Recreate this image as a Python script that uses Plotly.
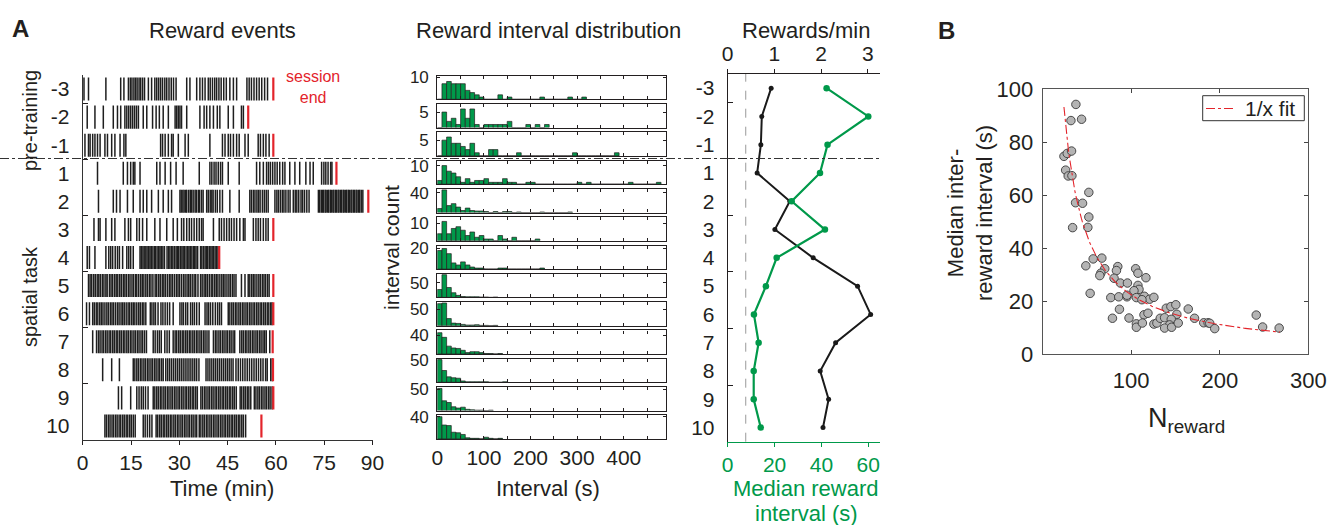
import plotly.graph_objects as go
import numpy as np

W, H = 1343, 525
FONT = "Liberation Sans, Arial, Helvetica, sans-serif"
INK = "#231f20"
GREEN = "#00994a"
RED = "#e3242b"

# ---------------- data ----------------
session_labels = ["-3", "-2", "-1", "1", "2", "3", "4", "5", "6", "7", "8", "9", "10"]

# reward event times (min)
ev_m3 = [0.4, 1.8, 7.2, 11.8, 12.8, 14.2, 14.8, 15.3, 15.9, 16.4, 16.9, 17.5, 18.0, 18.6, 19.2, 20.4, 21.4, 22.4,
         23.0, 23.6, 24.2, 24.8, 25.5, 26.1, 26.8, 27.5, 28.2, 29.0, 32.3, 33.3, 35.4, 36.4, 37.2, 38.0, 39.0, 39.6,
         40.3, 41.0, 41.6, 42.3, 43.0, 43.8, 44.6, 45.7, 46.8, 47.8, 51.0, 51.7, 52.4, 53.2, 54.0, 54.8, 55.6, 56.5, 57.4]
ev_m2 = [1.4, 3.8, 6.4, 9.5, 10.8, 11.8, 13.1, 13.7, 14.3, 14.9, 15.5, 16.1, 16.7, 17.3, 18.8, 19.9, 21.7, 22.8,
         23.8, 25.0, 26.6, 28.7, 29.2, 29.7, 30.2, 30.7, 32.3, 36.4, 37.7, 38.5, 39.5, 40.6, 41.8, 42.6, 45.2, 46.8,
         49.3, 49.9]
ev_m1 = [0.7, 1.8, 2.3, 3.1, 3.8, 4.6, 5.4, 6.9, 7.7, 9.0, 10.0, 11.6, 12.8, 13.4, 24.2, 24.8, 25.6, 26.6, 27.6,
         28.1, 29.7, 31.8, 32.8, 39.5, 43.4, 44.2, 45.2, 45.9, 46.8, 47.8, 48.6, 50.4, 51.4, 54.5, 55.2, 56.1, 56.9, 57.9]
ev_1 = [4.6, 12.6, 13.9, 14.9, 15.7, 16.2, 17.8, 23.0, 24.0, 25.6, 27.3, 29.0, 31.2, 36.2, 39.5, 40.1, 40.8, 41.4,
        42.1, 42.8, 43.4, 45.2, 48.6, 54.0, 55.0, 56.1, 57.1, 57.7, 58.3, 59.0, 59.7, 60.4, 61.2, 62.1, 62.8, 64.3,
        65.9, 67.4, 69.3, 70.6, 71.6, 74.2, 74.9, 75.5, 76.2, 77.0, 77.4]
ev_2 = [4.9, 9.5, 10.5, 11.6, 13.9, 15.7, 17.8, 18.8, 19.9, 21.4, 23.5, 25.0, 26.6, 27.6, 30.2, 30.6, 31.1, 31.5,
        32.0, 32.3, 32.9, 33.4, 33.8, 34.3, 34.9, 35.3, 35.9, 36.3, 36.9, 37.4, 38.5, 39.0, 39.6, 40.1, 40.5, 41.2,
        41.8, 42.6, 43.4, 45.7, 48.6, 51.9, 52.4, 53.0, 53.5, 54.1, 54.6, 55.1, 55.8, 56.4, 57.0, 57.6, 59.7, 60.3,
        60.8, 61.4, 62.0, 62.5, 63.1, 63.8, 64.4, 65.4, 66.0, 66.5, 67.1, 67.8, 68.3, 68.9, 69.6, 70.3, 73.2, 73.6,
        74.1, 74.5, 74.8, 75.3, 75.6, 76.1, 76.4, 76.9, 77.2, 77.7, 78.0, 78.5, 78.8, 79.3, 79.6, 80.1, 80.4, 80.9,
        81.2, 81.7, 82.0, 82.5, 82.8, 83.3, 83.6, 84.1, 84.4, 84.9, 85.2, 85.7, 86.0, 86.5, 87.0]
ev_3 = [3.5, 4.9, 5.4, 7.2, 9.0, 10.0, 13.1, 14.2, 14.9, 16.8, 17.6, 18.6, 19.9, 22.4, 24.0, 26.1, 28.1, 29.4,
        30.7, 31.4, 32.3, 33.1, 33.8, 34.6, 35.4, 36.2, 36.9, 37.4, 40.6, 42.4, 43.1, 43.9, 44.7, 45.5, 46.2, 47.0,
        47.8, 48.8, 49.9, 50.4, 53.0, 53.8, 54.5, 55.2, 56.1, 56.9, 57.6]
ev_4 = [1.4, 2.1, 3.8, 7.2, 8.1, 8.7, 9.3, 10.1, 10.8, 11.4, 12.4, 13.7, 14.3, 14.9, 15.7, 17.8, 18.2, 18.7, 19.1,
        19.6, 20.0, 20.5, 20.9, 21.3, 21.8, 22.3, 22.6, 23.1, 23.6, 24.0, 24.4, 24.9, 25.4, 26.2, 26.7, 27.1, 27.6,
        28.0, 28.5, 29.0, 29.4, 29.8, 30.3, 30.8, 31.2, 31.6, 32.1, 32.6, 33.0, 33.4, 33.9, 34.4, 34.8, 35.2, 35.7,
        36.6, 37.0, 37.5, 38.0, 38.4, 38.8, 39.3, 39.8, 40.2, 40.6, 41.1, 41.5, 42.0]
ev_5 = [1.8, 2.3, 2.8, 3.4, 3.9, 4.5, 5.0, 5.5, 6.1, 6.6, 7.2, 7.6, 8.3, 8.8, 9.3, 9.9, 10.4, 10.9, 11.5, 12.0,
        12.6, 13.1, 13.6, 14.2, 14.7, 15.3, 15.8, 16.4, 16.8, 17.4, 18.0, 18.5, 19.0, 19.6, 20.1, 20.7, 21.2, 21.8,
        22.5, 23.0, 23.6, 24.1, 24.7, 25.2, 25.7, 26.3, 26.9, 27.4, 27.9, 28.5, 29.1, 29.6, 30.1, 30.7, 31.3, 31.8,
        32.4, 32.9, 33.4, 34.0, 34.6, 35.1, 35.8, 36.6, 37.1, 37.7, 38.2, 38.7, 39.3, 39.9, 40.4, 41.0, 41.5, 42.0,
        42.6, 43.2, 43.7, 44.2, 44.8, 45.4, 45.9, 46.5, 47.0, 47.6, 49.3, 50.4, 51.4, 51.9, 52.5, 53.0, 53.5, 54.1,
        54.7, 55.2, 55.8, 56.3, 56.8, 57.4, 57.9]
ev_6 = [1.2, 2.1, 3.1, 3.6, 4.2, 4.7, 5.3, 5.8, 6.3, 6.9, 7.5, 8.0, 8.6, 9.1, 9.6, 10.2, 10.8, 11.3, 11.9, 12.4,
        12.9, 13.5, 14.1, 14.6, 15.2, 15.7, 16.2, 16.8, 17.4, 17.9, 18.5, 19.0, 19.6, 21.0, 21.5, 22.1, 22.6, 23.4,
        24.3, 24.9, 25.6, 26.3, 27.0, 28.1, 30.2, 30.8, 31.3, 32.0, 32.6, 33.5, 34.1, 34.7, 35.4, 36.2, 38.0, 38.6,
        39.1, 39.7, 40.4, 41.2, 41.9, 42.5, 43.1, 45.2, 45.7, 46.3, 46.8, 47.4, 47.9, 48.5, 49.0, 49.6, 50.1, 50.7,
        51.2, 51.8, 52.3, 52.9, 53.4, 54.0, 54.5, 55.1, 55.6, 56.2, 56.7, 57.3, 57.8, 58.4, 58.8]
ev_7 = [3.1, 4.3, 4.9, 5.4, 6.0, 6.5, 7.1, 7.6, 8.2, 8.7, 9.3, 9.8, 10.4, 10.9, 11.5, 12.0, 12.6, 13.1, 13.7, 14.2,
        14.8, 15.3, 15.9, 16.4, 17.0, 17.5, 18.1, 18.6, 19.2, 19.8, 21.9, 22.5, 23.2, 23.8, 24.4, 25.5, 26.2, 26.9,
        28.1, 28.7, 29.2, 29.8, 30.3, 30.9, 31.4, 32.0, 32.5, 33.1, 33.6, 34.2, 34.7, 35.3, 35.8, 36.4, 36.9, 37.5,
        38.0, 38.6, 39.2, 40.6, 41.2, 41.7, 42.3, 42.8, 43.4, 43.9, 44.5, 45.0, 45.6, 46.1, 46.7, 47.2, 48.8, 49.4,
        49.9, 50.5, 51.0, 51.6, 52.1, 52.7, 53.2, 53.8, 54.3, 54.9, 55.4, 56.0, 56.5, 57.0, 58.1]
ev_8 = [6.2, 9.0, 11.4, 15.7, 16.2, 16.8, 17.3, 17.9, 18.4, 19.0, 19.5, 20.1, 20.6, 21.2, 21.7, 22.3, 22.8, 23.4,
        23.9, 24.5, 25.0, 25.8, 26.4, 27.0, 27.6, 28.2, 28.8, 29.4, 30.0, 30.6, 31.2, 31.8, 32.4, 33.0, 33.6, 34.2,
        34.8, 35.4, 36.1, 38.3, 38.9, 39.5, 40.1, 40.7, 41.3, 41.9, 42.5, 43.1, 43.7, 44.3, 44.9, 45.5, 46.1, 46.7,
        47.6, 48.3, 49.0, 49.7, 50.4, 51.1, 51.8, 52.5, 53.2, 53.9, 54.6, 55.3, 56.0, 56.8, 57.3, 58.4, 58.9]
ev_9 = [11.1, 12.1, 14.9, 16.8, 17.5, 18.2, 18.8, 19.5, 20.3, 21.9, 22.4, 23.0, 23.5, 24.1, 24.6, 25.2, 25.7, 26.3,
        26.8, 27.4, 27.9, 28.5, 29.0, 29.6, 30.1, 30.7, 31.2, 31.8, 32.3, 32.9, 33.4, 34.0, 34.5, 35.1, 35.6, 36.7,
        37.2, 37.8, 38.3, 38.9, 39.4, 40.0, 40.5, 41.1, 41.6, 42.2, 42.7, 43.3, 43.8, 44.4, 44.9, 45.5, 46.0, 46.6,
        47.1, 47.7, 48.9, 49.4, 50.0, 50.5, 51.1, 51.6, 52.2, 53.3, 53.8, 54.4, 54.9, 55.5, 56.0, 56.6, 57.1, 57.7,
        58.2, 58.8]
ev_10 = [6.9, 7.4, 8.0, 8.5, 9.1, 9.6, 10.2, 10.7, 11.3, 11.8, 12.4, 12.9, 13.5, 14.0, 14.6, 15.1, 15.7, 16.3,
         18.8, 19.4, 20.1, 20.8, 21.5, 22.8, 23.3, 23.9, 24.4, 25.0, 25.5, 26.1, 26.6, 27.2, 27.7, 28.3, 28.8, 29.4,
         29.9, 30.5, 31.0, 31.6, 32.1, 32.7, 33.2, 33.8, 34.3, 34.9, 35.4, 36.2, 36.7, 37.3, 37.8, 38.4, 38.9, 39.5,
         40.0, 40.6, 41.1, 41.7, 42.2, 42.8, 43.3, 43.9, 44.4, 45.0, 45.5, 46.1, 46.6, 47.2, 47.7, 48.3, 48.8, 49.4,
         49.9, 50.6]
session_end = [59.2, 51.4, 59.2, 78.8, 88.7, 59.2, 42.4, 59.2, 59.2, 59.0, 59.1, 59.2, 55.5]

# interval histograms (counts per 10 s bin, starting at 0 s)
hist_bin_s = 10
h_m3 = [0, 7, 8, 7, 7, 7, 4, 3, 2, 1, 0, 0, 0, 2, 0, 1, 0, 0, 0, 0, 0, 0, 1, 0, 0, 0, 0, 0, 1, 0, 0, 1]
h_m2 = [0, 5, 2, 3, 1, 6, 3, 6, 1, 0, 1, 1, 1, 1, 1, 2, 0, 0, 0, 1, 0, 1, 0, 1]
h_m1 = [0, 5, 6, 4, 4, 3, 2, 4, 1, 0, 0, 2, 2, 0, 0, 0, 0, 1, 0, 0, 0, 0, 0, 0, 0, 0, 0, 0, 0, 1, 0, 0, 0, 0, 0,
        0, 0, 0, 1]
h_1 = [2, 10, 7, 6, 4, 1, 3, 1, 2, 2, 3, 1, 1, 1, 3, 1, 1, 0, 0, 1, 1, 0, 0, 0, 0, 0, 0, 0, 0, 0, 1, 0, 1, 0, 0, 0,
       0, 0, 0, 0, 0, 1, 0, 0, 0, 0, 0, 1]
h_2 = [8, 46, 14, 18, 11, 4, 9, 4, 3, 3, 2, 0, 2, 0, 2, 2, 0, 1, 0, 0, 0, 0, 1, 0, 0, 0, 0, 0, 1]
h_3 = [4, 11, 4, 7, 8, 6, 3, 5, 2, 3, 1, 1, 0, 3, 1, 0, 2, 0, 0, 0, 0, 1]
h_4 = [18, 20, 15, 6, 4, 7, 4, 2, 1, 1, 0, 0, 0, 1, 1, 0, 0, 0, 0, 0, 0, 0, 1]
h_5 = [27, 78, 34, 16, 7, 3, 2, 2, 2, 1, 1, 0, 1]
h_6 = [68, 70, 22, 8, 7, 4, 2, 2, 3, 1, 1, 0, 1]
h_7 = [46, 36, 17, 13, 12, 8, 3, 5, 5, 3, 1, 1, 0, 1]
h_8 = [50, 26, 12, 10, 9, 3, 1, 1, 1, 1, 1, 0, 0, 0, 1]
h_9 = [52, 23, 19, 9, 6, 8, 3, 2, 1, 1, 0, 1]
h_10 = [40, 25, 24, 12, 11, 8, 2, 1, 1, 0, 3, 1, 0, 1]
hist_tick = [10, 5, 5, 10, 40, 10, 20, 50, 50, 40, 50, 50, 40]
hist_ymax = [10.6, 7.6, 7.5, 12.7, 48, 13.4, 22.9, 81, 72.8, 51, 52, 55.4, 42.5]
hist_major_ticks = [0, 100, 200, 300, 400]
hist_minor_ticks = [50, 150, 250, 350, 450]

# rewards/min and median interval per session
rewards_per_min = [0.93, 0.73, 0.71, 0.63, 1.33, 1.01, 1.83, 2.78, 3.06, 2.31, 1.98, 2.16, 2.04]
median_interval_s = [42.2, 60.0, 42.6, 39.4, 27.3, 41.5, 20.9, 16.3, 11.2, 13.2, 11.1, 11.1, 14.1]
ref_interval_s = 7.7

# panel B
n_reward = [37.5, 31.9, 43.9, 24.0, 27.7, 32.6, 25.9, 28.8, 33.0, 52.1, 37.1, 45.0, 52.1, 33.8, 51.0, 57.0, 66.8,
            48.7, 84.8, 70.1, 105.0, 83.3, 65.6, 64.5, 107.6, 116.6, 80.6, 87.8, 95.7, 107.6, 108.8, 103.1, 53.6,
            76.9, 85.9, 95.2, 105.8, 114.8, 120.8, 125.6, 95.2, 112.1, 86.7, 78.8, 97.5, 114.4, 118.9, 105.8, 105.8,
            112.6, 125.6, 129.0, 132.8, 137.7, 139.6, 144.8, 150.4, 151.5, 145.2, 143.3, 137.7, 145.6, 153.1, 164.4,
            171.5, 181.9, 186.8, 188.7, 194.3, 241.2, 248.4, 267.1]
median_iri = [94.3, 88.2, 88.7, 74.7, 75.8, 76.7, 69.5, 67.3, 67.4, 61.1, 57.2, 57.0, 51.8, 47.8, 47.9, 36.0, 36.3,
              33.4, 33.1, 32.3, 32.3, 31.6, 30.6, 29.7, 30.6, 28.9, 28.7, 26.9, 26.9, 26.0, 24.5, 24.0, 23.0, 21.4,
              21.7, 21.7, 21.4, 21.9, 20.8, 21.5, 22.3, 20.6, 17.0, 13.6, 13.7, 14.9, 15.5, 11.5, 10.2, 11.8, 11.4,
              11.8, 13.6, 13.8, 17.4, 18.0, 18.7, 15.1, 13.2, 11.1, 9.9, 10.2, 11.8, 17.1, 13.6, 11.9, 11.9, 11.7,
              9.7, 14.8, 10.3, 9.9]
fit_a = 2240.0
fit_x_range = [24.0, 268.0]
fit_label = "1/x fit"

# ---------------- helpers ----------------
def xd(a, b):
    return [a / W, b / W]

def yd(top, bottom):
    return [1 - bottom / H, 1 - top / H]

def px(x):
    return x / W

def py(y):
    return 1 - y / H

events = [ev_m3, ev_m2, ev_m1, ev_1, ev_2, ev_3, ev_4, ev_5, ev_6, ev_7, ev_8, ev_9, ev_10]
hists = [h_m3, h_m2, h_m1, h_1, h_2, h_3, h_4, h_5, h_6, h_7, h_8, h_9, h_10]
rows = list(range(len(session_labels)))
HALF = 0.41

fig = go.Figure()

# raster
rx, ry = [], []
for i, ev in enumerate(events):
    for t in ev:
        rx += [t, t, None]
        ry += [i - HALF, i + HALF, None]
fig.add_trace(go.Scatter(x=rx, y=ry, mode="lines", line=dict(color="#1e1e1e", width=1.5),
                         xaxis="x", yaxis="y", showlegend=False, hoverinfo="skip"))
ex, ey = [], []
for i, t in enumerate(session_end):
    ex += [t, t, None]
    ey += [i - HALF, i + HALF, None]
fig.add_trace(go.Scatter(x=ex, y=ey, mode="lines", line=dict(color=RED, width=2.2),
                         xaxis="x", yaxis="y", showlegend=False, hoverinfo="skip"))

layout = dict(
    template="none",
    width=W, height=H, margin=dict(l=0, r=0, t=0, b=0, autoexpand=False),
    paper_bgcolor="white", plot_bgcolor="white",
    font=dict(family=FONT, color=INK, size=21),
    showlegend=False,
)

minor_rows = dict(tickvals=[0.5, 2.5, 4.5, 6.5, 8.5, 10.5], ticks="inside", ticklen=5,
                  tickcolor=INK, tickwidth=1, showgrid=False)

common = dict(automargin=False, showgrid=False, zeroline=False)

layout["xaxis"] = dict(domain=xd(82.7, 372.5), range=[0, 90], tickvals=[0, 15, 30, 45, 60, 75, 90],
                       ticks="outside", ticklen=4, tickcolor=INK, showline=True, linecolor="#333",
                       linewidth=1, tickfont=dict(size=21), anchor="y", **common)
layout["yaxis"] = dict(domain=yd(75, 440), range=[12.5, -0.5], tickvals=rows, ticktext=session_labels,
                       ticks="inside", ticklen=0, showline=True, linecolor="#333", linewidth=1,
                       tickfont=dict(size=21), anchor="x",
                       ticklabelstandoff=8, minor=minor_rows, **common)

# histograms
for i, h in enumerate(hists):
    k = i + 2
    top = 75.7 + 28.3 * i
    bottom = top + 23.6
    centers = [b * hist_bin_s + hist_bin_s / 2 for b in range(len(h))]
    fig.add_trace(go.Bar(x=centers, y=h, width=[hist_bin_s] * len(h),
                         marker=dict(color=GREEN, line=dict(color=INK, width=0.7)),
                         xaxis=f"x{k}", yaxis=f"y{k}", showlegend=False, hoverinfo="skip"))
    last = (i == len(hists) - 1)
    layout[f"xaxis{k}"] = dict(domain=xd(437.3, 665.7), range=[0, 490], tickvals=hist_major_ticks,
                               showticklabels=last, ticks="inside", ticklen=3,
                               tickcolor=INK, mirror="ticks", showline=True, linecolor=INK,
                               linewidth=1.2, tickfont=dict(size=21), anchor=f"y{k}",
                               minor=dict(tickvals=hist_minor_ticks, ticks="inside", ticklen=3,
                                          tickcolor=INK, showgrid=False), **common)
    layout[f"yaxis{k}"] = dict(domain=yd(top, bottom), range=[0, hist_ymax[i]], tickvals=[hist_tick[i]],
                               ticks="inside", ticklen=3, tickcolor=INK, mirror="ticks", showline=True,
                               linecolor=INK, linewidth=1.2,
                               tickfont=dict(size=17), anchor=f"x{k}", ticklabelstandoff=4, **common)

# rewards/min and median interval
fig.add_trace(go.Scatter(x=rewards_per_min, y=rows, mode="lines+markers",
                         line=dict(color="#1a1a1a", width=2), marker=dict(size=5, color="#1a1a1a"),
                         xaxis="x15", yaxis="y15", showlegend=False, hoverinfo="skip"))
fig.add_trace(go.Scatter(x=median_interval_s, y=rows, mode="lines+markers",
                         line=dict(color=GREEN, width=2.2), marker=dict(size=6.5, color=GREEN),
                         xaxis="x16", yaxis="y15", showlegend=False, hoverinfo="skip"))
layout["xaxis15"] = dict(domain=xd(727.7, 880), range=[0, 3.26], tickvals=[0, 1, 2, 3], side="top",
                         ticks="outside", ticklen=4, tickcolor=INK, showline=True, linecolor=INK,
                         linewidth=1, tickfont=dict(size=21), anchor="y15", **common)
layout["xaxis16"] = dict(domain=xd(727.7, 880), range=[0, 65], tickvals=[0, 20, 40, 60], side="bottom",
                         overlaying="x15", ticks="outside", ticklen=4, tickcolor=GREEN, showline=True,
                         linecolor=GREEN, linewidth=1,
                         tickfont=dict(size=21, color=GREEN), anchor="y15", **common)
layout["yaxis15"] = dict(domain=yd(74, 441.7), range=[12.5, -0.5], tickvals=rows, ticktext=session_labels,
                         ticks="inside", ticklen=0, showline=True, linecolor=INK, linewidth=1,
                         tickfont=dict(size=21), anchor="x15",
                         ticklabelstandoff=8, minor=minor_rows, **common)

# panel B
fx = np.linspace(fit_x_range[0], fit_x_range[1], 200)
fig.add_trace(go.Scatter(x=n_reward, y=median_iri, mode="markers",
                         marker=dict(size=8.5, color="#b4b4b4", line=dict(color="#3a3a3a", width=0.9)),
                         xaxis="x17", yaxis="y17", showlegend=False, hoverinfo="skip"))
fig.add_trace(go.Scatter(x=fx, y=fit_a / fx, mode="lines", name=fit_label,
                         line=dict(color=RED, width=1.1, dash="dashdot"),
                         xaxis="x17", yaxis="y17", showlegend=False, hoverinfo="skip"))
layout["xaxis17"] = dict(domain=xd(1042.7, 1308.3), range=[0, 300], tickvals=[100, 200, 300],
                         ticks="inside", ticklen=4, tickcolor="#444", mirror="ticks", showline=True,
                         linecolor="#555", linewidth=1,
                         tickfont=dict(size=22), anchor="y17", ticklabelstandoff=6, **common)
layout["yaxis17"] = dict(domain=yd(89.3, 354.3), range=[0, 100], tickvals=[0, 20, 40, 60, 80, 100],
                         ticks="inside", ticklen=4, tickcolor="#444", mirror="ticks", showline=True,
                         linecolor="#555", linewidth=1,
                         tickfont=dict(size=22), anchor="x17", ticklabelstandoff=4, **common)

layout["shapes"] = [
    dict(type="line", xref="paper", yref="paper", x0=0, x1=px(880), y0=py(158.5), y1=py(158.5),
         line=dict(color="#333", width=1, dash="dashdot")),
    dict(type="line", xref="x16", yref="paper", x0=ref_interval_s, x1=ref_interval_s,
         y0=py(441.7), y1=py(74), line=dict(color="#999", width=1, dash="dash")),
    # legend box for panel B
    dict(type="rect", xref="paper", yref="paper", x0=px(1202.7), x1=px(1304.3), y0=py(120.7), y1=py(95.7),
         line=dict(color="#333", width=1), fillcolor="white", layer="above"),
    dict(type="line", xref="paper", yref="paper", x0=px(1206), x1=px(1236), y0=py(108.5), y1=py(108.5),
         line=dict(color=RED, width=1.1, dash="dashdot"), layer="above"),
]

def ann(text, x, y, size=22, color=INK, angle=0, bold=False, xanchor="center"):
    return dict(text=f"<b>{text}</b>" if bold else text, x=px(x), y=py(y), xref="paper", yref="paper",
                showarrow=False, xanchor=xanchor, yanchor="middle", textangle=angle,
                font=dict(size=size, color=color, family=FONT))

layout["annotations"] = [
    ann("A", 20, 28, size=24, bold=True),
    ann("B", 946, 30, size=24, bold=True),
    ann("Reward events", 222, 30),
    ann("Reward interval distribution", 548, 30),
    ann("Rewards/min", 806, 30),
    ann("session<br>end", 313, 87.5, size=16, color=RED),
    ann("pre-training", 30, 121, size=20, angle=-90),
    ann("spatial task", 30, 297, size=20, angle=-90),
    ann("interval count", 392, 248, size=21, angle=-90),
    ann("Time (min)", 222, 488),
    ann("Interval (s)", 548, 488),
    ann("Median reward", 806, 488, color=GREEN),
    ann("interval (s)", 806, 513, color=GREEN),
    ann("Median inter-<br>reward interval (s)", 970, 213, angle=-90),
    ann("N<sub>reward</sub>", 1186, 420, size=27),
    ann(fit_label, 1243, 108.5, size=21, xanchor="left"),
]

fig.update_layout(**layout)
fig.write_html("out.html", config={"displayModeBar": False},
               post_script="document.body.style.margin='0px';document.body.style.padding='0px';")
